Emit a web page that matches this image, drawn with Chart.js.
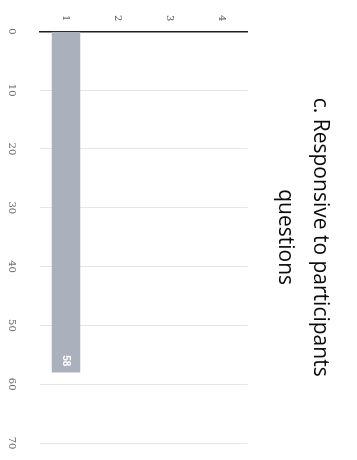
<!DOCTYPE html>
<html lang="en">
<head>
<meta charset="UTF-8" />
<title>Responsive to participants questions</title>
<script src="https://cdn.jsdelivr.net/npm/chart.js"></script>
<style>
  html, body { margin: 0; padding: 0; background: #fff; overflow: hidden; }
  /* the reference is a photo of the chart turned a quarter turn clockwise */
  .turned {
    position: absolute;
    left: 0;
    top: 0;
    width: 460px;
    height: 357px;
    transform-origin: 0 0;
    transform: translate(357px, 0) rotate(90deg);
  }
</style>
</head>
<body>
<div class="turned"><canvas id="chart" width="460" height="357"></canvas></div>
<script>
  const categories = ['1', '2', '3', '4'];
  const responses = [58, null, null, null];
  const valueTicks = [0, 10, 20, 30, 40, 50, 60, 70];
  const titleLines = ['c. Responsive to participants', 'questions'];

  // value written inside the end of each bar
  const barLabels = {
    id: 'barLabels',
    afterDatasetsDraw(chart) {
      const ctx = chart.ctx;
      const meta = chart.getDatasetMeta(0);
      ctx.save();
      ctx.font = 'bold 10px "Liberation Sans", Arial, sans-serif';
      ctx.fillStyle = '#ffffff';
      ctx.textAlign = 'right';
      ctx.textBaseline = 'middle';
      meta.data.forEach((bar, i) => {
        if (responses[i] == null) return;
        ctx.fillText(responses[i], bar.x - 6, bar.y);
      });
      ctx.restore();
    }
  };

  new Chart(document.getElementById('chart'), {
    type: 'bar',
    data: {
      labels: categories,
      datasets: [{
        data: responses,
        backgroundColor: '#aab1bc',
        borderWidth: 0,
        barPercentage: 0.55,
        categoryPercentage: 1
      }]
    },
    options: {
      indexAxis: 'y',
      responsive: false,
      animation: false,
      layout: { padding: { left: 13, right: 17, top: 0, bottom: 0 } },
      plugins: {
        legend: { display: false },
        tooltip: { enabled: false },
        title: {
          display: true,
          fullSize: false,
          text: titleLines,
          color: '#0a0a0a',
          font: { family: '"Open Sans", sans-serif', size: 21, weight: 'normal', lineHeight: 1.65 },
          padding: { top: 20, bottom: 20 }
        }
      },
      scales: {
        x: {
          min: valueTicks[0],
          max: valueTicks[valueTicks.length - 1],
          ticks: {
            stepSize: valueTicks[1] - valueTicks[0],
            color: '#666',
            font: { family: '"DejaVu Serif", serif', size: 10 },
            padding: 3
          },
          grid: { color: '#e6e6e6', tickLength: 19, tickColor: 'rgba(0,0,0,0)' },
          border: { display: false },
          afterFit(scale) { scale.height = 40; }
        },
        y: {
          reverse: true,
          ticks: {
            color: '#555',
            font: { family: '"DejaVu Serif", serif', size: 10 },
            padding: 2
          },
          grid: { display: false },
          border: { color: '#1e1e1e', width: 1.5 }
        }
      }
    },
    plugins: [barLabels]
  });
</script>
</body>
</html>
